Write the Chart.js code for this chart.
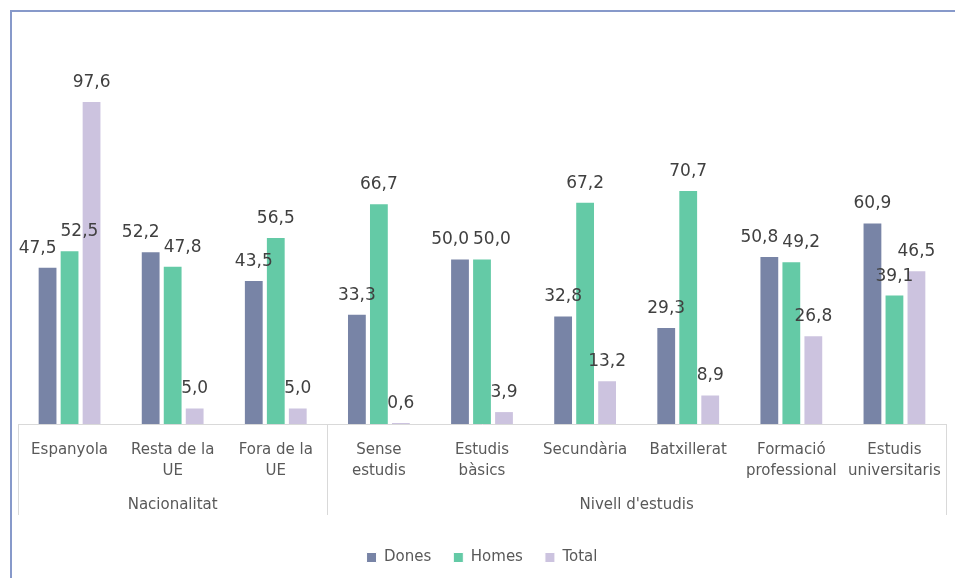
<!DOCTYPE html>
<html>
<head>
<meta charset="utf-8">
<script src="https://cdn.jsdelivr.net/npm/chart.js@4"></script>
<style>
  html, body { margin: 0; padding: 0; background: #fff; }
  #frame { position: absolute; left: 10px; top: 10px; right: -4px; bottom: -4px;
           border-left: 2px solid #8799ca; border-top: 2px solid #8799ca; }
  #wrap { position: absolute; left: 0; top: 0; width: 955px; height: 578px; }
</style>
</head>
<body>
<div id="frame"></div>
<div id="wrap"><canvas id="chart"></canvas></div>
<script>
const categories = [
  ['Espanyola'], ['Resta de la', 'UE'], ['Fora de la', 'UE'],
  ['Sense', 'estudis'], ['Estudis', 'bàsics'], ['Secundària'], ['Batxillerat'],
  ['Formació', 'professional'], ['Estudis', 'universitaris']
]
const groups = ['Nacionalitat', "Nivell d'estudis"]
const groupSizes = [3, 6]

const dones = [47.5, 52.2, 43.5, 33.3, 50.0, 32.8, 29.3, 50.8, 60.9]
const homes = [52.5, 47.8, 56.5, 66.7, 50.0, 67.2, 70.7, 49.2, 39.1]
const total = [97.6, 5.0, 5.0, 0.6, 3.9, 13.2, 8.9, 26.8, 46.5]

const FONT = '"DejaVu Sans", Verdana, sans-serif'

// value labels above each bar, pushed sideways when they collide
const valueLabels = {
  id: 'valueLabels',
  afterDatasetsDraw(chart) {
    const ctx = chart.ctx
    ctx.save()
    ctx.font = '17px ' + FONT
    ctx.fillStyle = '#404040'
    ctx.textAlign = 'center'
    ctx.textBaseline = 'bottom'
    const n = chart.data.labels.length
    for (let j = 0; j < n; j++) {
      const boxes = chart.data.datasets.map((ds, i) => {
        const bar = chart.getDatasetMeta(i).data[j]
        const text = ds.data[j].toFixed(1).replace('.', ',')
        const w = ctx.measureText(text).width
        const bottom = bar.y - 10
        return { text, cx: bar.x, w, bottom, top: bottom - 20 }
      })
      const pairs = [[0, 1], [1, 2], [0, 1]]
      pairs.forEach(([a, b]) => {
        const A = boxes[a], B = boxes[b]
        if (A.top < B.bottom && B.top < A.bottom) {
          const over = (A.cx + A.w / 2 + 4) - (B.cx - B.w / 2)
          if (over > 0) { A.cx -= over / 2; B.cx += over / 2 }
        }
      })
      boxes.forEach(b => ctx.fillText(b.text, b.cx, b.bottom))
    }
    ctx.restore()
  }
}

// second level of the category axis
const groupAxis = {
  id: 'groupAxis',
  afterDraw(chart) {
    const x = chart.scales.x
    const ctx = chart.ctx
    const step = (x.right - x.left) / categories.length
    const top = x.top
    const bottom = x.top + 91
    ctx.save()
    ctx.strokeStyle = '#d9d9d9'
    ctx.lineWidth = 1
    let edge = 0
    const edges = [0]
    groupSizes.forEach(n => { edge += n; edges.push(edge) })
    edges.forEach(e => {
      const px = Math.round(x.getPixelForValue(e) - step / 2) + 0.5
      ctx.beginPath()
      ctx.moveTo(px, top)
      ctx.lineTo(px, bottom)
      ctx.stroke()
    })
    ctx.font = '15px ' + FONT
    ctx.fillStyle = '#595959'
    ctx.textAlign = 'center'
    ctx.textBaseline = 'middle'
    groups.forEach((g, i) => {
      const a = x.getPixelForValue(edges[i]) - step / 2
      const b = x.getPixelForValue(edges[i + 1]) - step / 2
      ctx.fillText(g, (a + b) / 2, top + 81)
    })
    ctx.restore()
  }
}

new Chart(document.getElementById('chart'), {
  type: 'bar',
  data: {
    labels: categories,
    datasets: [
      { label: 'Dones', data: dones, backgroundColor: '#7884a6', borderColor: '#ffffff', borderWidth: 1 },
      { label: 'Homes', data: homes, backgroundColor: '#64caa6', borderColor: '#ffffff', borderWidth: 1 },
      { label: 'Total', data: total, backgroundColor: '#ccc3df', borderColor: '#ffffff', borderWidth: 1 }
    ]
  },
  options: {
    responsive: true,
    maintainAspectRatio: false,
    animation: false,
    categoryPercentage: 0.64,
    barPercentage: 0.9,
    layout: { padding: { left: 18, right: 9, top: 60, bottom: 3 } },
    scales: {
      x: {
        grid: { display: false },
        border: { color: '#d9d9d9' },
        ticks: {
          autoSkip: false, maxRotation: 0, padding: 8,
          color: '#595959', font: { family: FONT, size: 15, lineHeight: 1.4 }
        },
        afterFit(scale) { scale.height = 104 }
      },
      y: { display: false, min: 0, max: 110 }
    },
    plugins: {
      legend: {
        position: 'bottom',
        maxHeight: 49,
        labels: {
          boxWidth: 10, boxHeight: 10, padding: 22,
          color: '#595959', font: { family: FONT, size: 15 }
        }
      },
      tooltip: { enabled: false }
    }
  },
  plugins: [valueLabels, groupAxis]
})
</script>
</body>
</html>
